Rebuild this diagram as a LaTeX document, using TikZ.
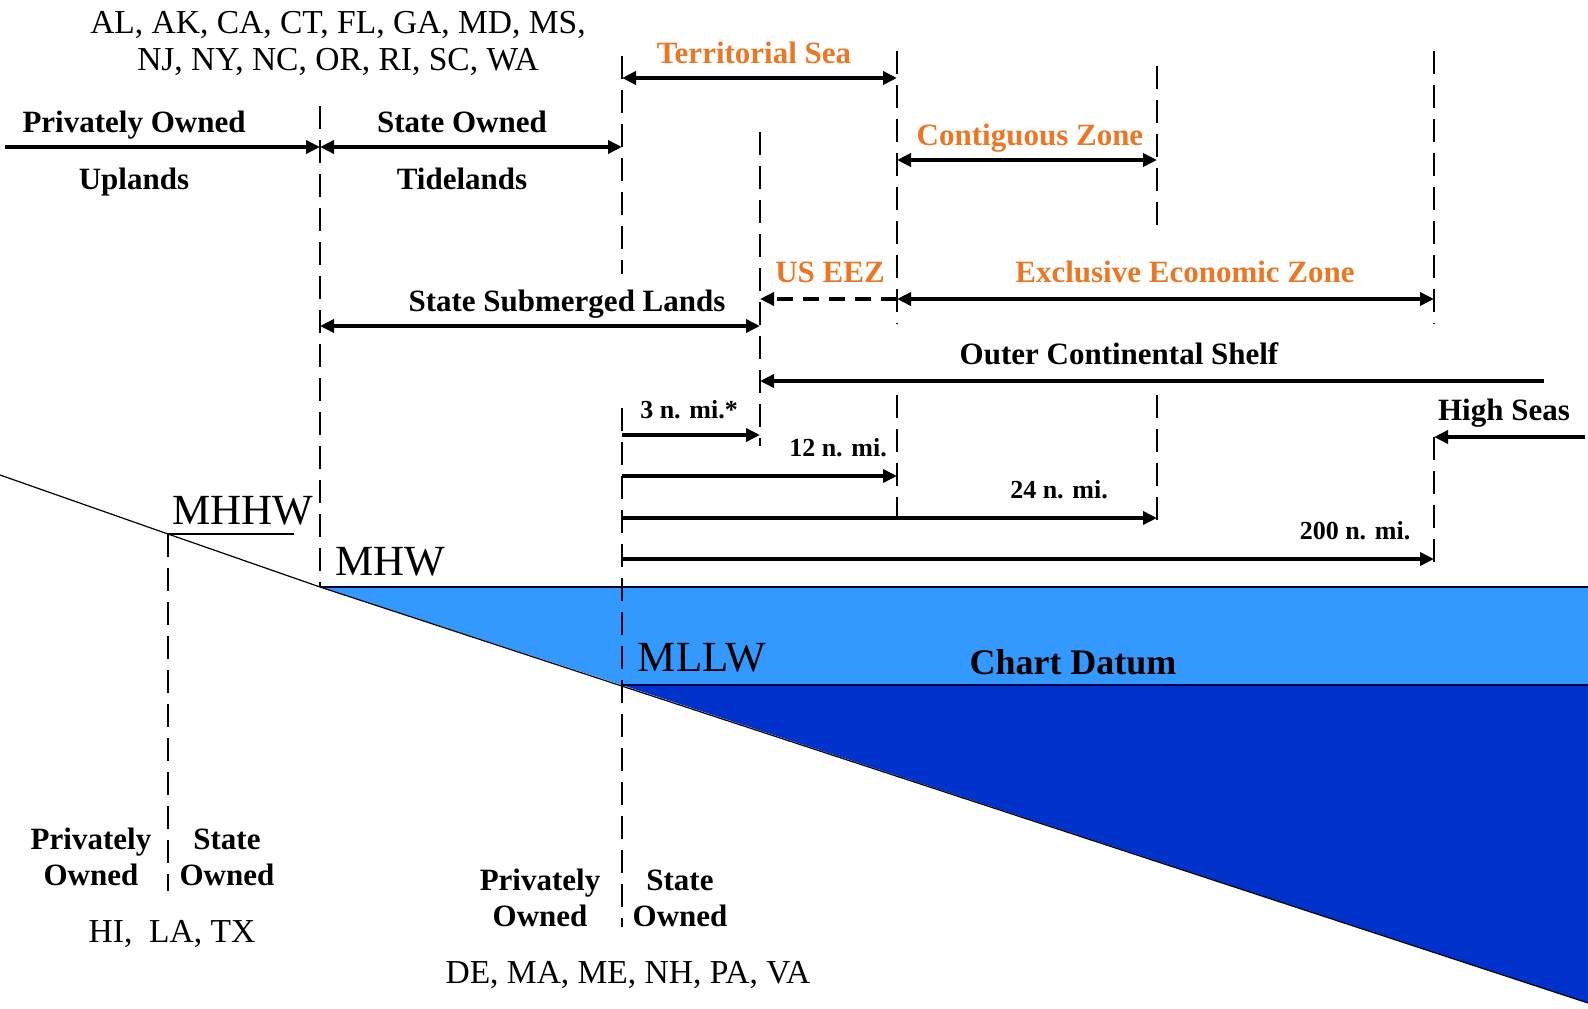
\documentclass[tikz,border=0pt]{standalone}
\usepackage{fontspec}
\setmainfont{Liberation Serif}
\usetikzlibrary{arrows.meta}
\definecolor{orng}{RGB}{235,118,36}
\definecolor{lblue}{RGB}{51,153,255}
\definecolor{dblue}{RGB}{0,51,204}
\begin{document}
\begin{tikzpicture}[x=1pt,y=-1pt,
 dline/.style={line width=2.8pt, dash pattern=on 23pt off 11pt},
 arr/.style={line width=3.8pt, -{Triangle[length=14pt,width=13pt]}},
 darr/.style={line width=3.8pt, {Triangle[length=14pt,width=13pt]}-{Triangle[length=14pt,width=13pt]}},
 lbl/.style={font=\fontsize{31}{36}\selectfont\bfseries, inner sep=0pt},
 olbl/.style={lbl, text=orng},
 st/.style={font=\fontsize{33.5}{37}\selectfont, inner sep=0pt, align=center},
 big/.style={font=\fontsize{43}{48}\selectfont, inner sep=0pt},
 sm/.style={font=\fontsize{26}{30}\selectfont\bfseries, inner sep=0pt}]
\useasboundingbox (0,0) rectangle (1588,1009);
% water
\fill[lblue] (320,587) -- (1588,587) -- (1588,685) -- (622,685) -- cycle;
\fill[dblue] (622,685) -- (1588,685) -- (1588,1003) -- cycle;
\draw[line width=1.6pt, black!80!blue] (320,587) -- (1588,587);
\draw[line width=1.6pt, black!70!blue] (622,685) -- (1588,685);
\draw[line width=1.2pt] (0,475) -- (168,534) -- (320,587) -- (1588,1003);
\draw[line width=1.6pt] (168,534) -- (294,534);
% dashed verticals
\draw[dline] (168,534) -- (168,891);
\draw[dline] (320,106) -- (320,587);
\draw[dline] (622,56) -- (622,274);
\draw[dline] (622,408) -- (622,927);
\draw[dline] (760,132) -- (760,446);
\draw[dline] (897,51) -- (897,324);
\draw[dline] (897,395) -- (897,517);
\draw[dline] (1157,66) -- (1157,228);
\draw[dline] (1157,395) -- (1157,523);
\draw[dline] (1434,51) -- (1434,324);
\draw[dline] (1434,437) -- (1434,563);
% coordinates
\coordinate (L0) at (5,147);
\coordinate (L1) at (320,147);
\coordinate (L2) at (622,147);
\coordinate (ts1) at (622,78);
\coordinate (ts2) at (897,78);
\coordinate (cz1) at (897,160);
\coordinate (cz2) at (1157,160);
\coordinate (ue1) at (897,299);
\coordinate (ue2) at (760,299);
\coordinate (ez2) at (1434,299);
\coordinate (sl1) at (320,326);
\coordinate (sl2) at (760,326);
\coordinate (oc1) at (1544,381);
\coordinate (oc2) at (760,381);
\coordinate (m3a) at (622,435);
\coordinate (m3b) at (760,435);
\coordinate (m12a) at (622,476);
\coordinate (m12b) at (897,476);
\coordinate (m24a) at (622,518);
\coordinate (m24b) at (1157,518);
\coordinate (m200a) at (622,559);
\coordinate (m200b) at (1434,559);
\coordinate (hs1) at (1585,437);
\coordinate (hs2) at (1434,437);
% arrows
\draw[arr] (L0) -- (L1);
\draw[darr] (L1) -- (L2);
\draw[darr] (ts1) -- (ts2);
\draw[darr] (cz1) -- (cz2);
\draw[arr, dash pattern=on 16pt off 10pt] (ue1) -- (ue2);
\draw[darr] (ue1) -- (ez2);
\draw[darr] (sl1) -- (sl2);
\draw[arr] (oc1) -- (oc2);
\draw[arr] (m3a) -- (m3b);
\draw[arr] (m12a) -- (m12b);
\draw[arr] (m24a) -- (m24b);
\draw[arr] (m200a) -- (m200b);
\draw[arr] (hs1) -- (hs2);
% texts
\node[st] (states1) at (338,43) {AL, AK, CA, CT, FL, GA, MD, MS,\\NJ, NY, NC, OR, RI, SC, WA};
\node[lbl] (po) at (134,125) {Privately Owned};
\node[lbl] (up) at (134,182) {Uplands};
\node[lbl] (so) at (462,122) {State Owned};
\node[lbl] (td) at (462,179) {Tidelands};
\node[olbl] (tsl) at (754,53) {Territorial Sea};
\node[olbl] (czl) at (1030,138) {Contiguous Zone};
\node[olbl] (uel) at (830,272) {US EEZ};
\node[olbl] (ezl) at (1185,272) {Exclusive Economic Zone};
\node[lbl] (sll) at (567,304) {State Submerged Lands};
\node[lbl] (ocl) at (1119,354) {Outer Continental Shelf};
\node[sm] (t3) at (689,410) {3 n. mi.*};
\node[sm] (t12) at (838,448) {12 n. mi.};
\node[sm] (t24) at (1059,490) {24 n. mi.};
\node[sm] (t200) at (1355,531) {200 n. mi.};
\node[lbl] (hsl) at (1504,413) {High Seas};
\node[big] (mhhw) at (243,511) {MHHW};
\node[big] (mhw) at (390,562) {MHW};
\node[big] (mllw) at (702,658) {MLLW};
\node[font=\fontsize{36}{40}\selectfont\bfseries, inner sep=0pt] (cd) at (1073,662) {Chart Datum};
\node[lbl, align=center] (bpo1) at (91,857) {Privately\\Owned};
\node[lbl, align=center] (bso1) at (227,857) {State\\Owned};
\node[st] (hi) at (172,934) {HI,\ \ LA, TX};
\node[lbl, align=center] (bpo2) at (540,898) {Privately\\Owned};
\node[lbl, align=center] (bso2) at (680,898) {State\\Owned};
\node[st] (de) at (628,975) {DE, MA, ME, NH, PA, VA};
\end{tikzpicture}
\end{document}
